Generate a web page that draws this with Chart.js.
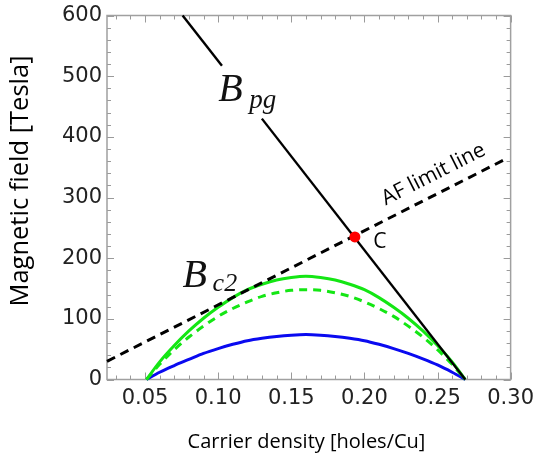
<!DOCTYPE html>
<html><head><meta charset="utf-8">
<script src="https://cdn.jsdelivr.net/npm/chart.js@4"></script>
<style>html,body{margin:0;padding:0;background:#fff}</style>
</head><body>
<canvas id="c" width="543" height="460"></canvas>
<script>
// ---- axis ticks ----
const xTickValues = [0.05, 0.10, 0.15, 0.20, 0.25, 0.30];
const xTickLabels = ['0.05', '0.10', '0.15', '0.20', '0.25', '0.30'];
const xMinorTicks = [0.03, 0.04, 0.06, 0.07, 0.08, 0.09, 0.11, 0.12, 0.13, 0.14, 0.16, 0.17, 0.18, 0.19, 0.21, 0.22, 0.23, 0.24, 0.26, 0.27, 0.28, 0.29];
const yTickValues = [0, 100, 200, 300, 400, 500, 600];
const yTickLabels = ['0', '100', '200', '300', '400', '500', '600'];
const yMinorTicks = [20, 40, 60, 80, 120, 140, 160, 180, 220, 240, 260, 280, 320, 340, 360, 380, 420, 440, 460, 480, 520, 540, 560, 580];

const xTitle = 'Carrier density [holes/Cu]';
const yTitle = 'Magnetic field [Tesla]';

// ---- series (carrier density -> magnetic field, Tesla) ----
const density   = [0.051, 0.06, 0.07, 0.08, 0.09, 0.10, 0.11, 0.12, 0.13, 0.14, 0.15, 0.16, 0.17, 0.18, 0.19, 0.20, 0.21, 0.22, 0.23, 0.24, 0.25, 0.26, 0.269];
const bc2Solid  = [0, 29, 56, 80, 101, 119, 135, 148, 157, 164, 168, 170, 168, 164, 157, 148, 135, 119, 101, 80, 56, 29, 0];
const bc2Dashed = [0, 25, 49, 70, 88, 104, 117, 128, 137, 143, 147, 148, 147, 143, 137, 128, 117, 104, 88, 70, 49, 25, 0];
const bc2Blue   = [0, 12, 23, 33, 43, 51, 58, 64, 68, 71, 73, 74, 73, 71, 68, 64, 58, 51, 43, 34, 24, 12, 0];

const bpgUpperX = [0.0757, 0.1026];
const bpgUpperY = [600, 517];
const bpgLowerX = [0.1299, 0.269];
const bpgLowerY = [430, 0];

const afLimitX = [0.024, 0.2963];
const afLimitY = [30, 363];

const pointCX = [0.1935];
const pointCY = [235];

const pts = (xs, ys) => xs.map((x, i) => ({x: x, y: ys[i]}));

const frameTicks = {
  id: 'frameTicks',
  beforeDatasetsDraw(chart) {
    const {ctx, chartArea: a, scales: {x, y}} = chart;
    ctx.save();
    ctx.strokeStyle = '#9a9a9a';
    ctx.lineWidth = 1;
    const tick = (x1, y1, x2, y2) => { ctx.beginPath(); ctx.moveTo(x1, y1); ctx.lineTo(x2, y2); ctx.stroke(); };
    xTickValues.forEach(v => { const p = Math.round(x.getPixelForValue(v)) + 0.5; tick(p, a.bottom, p, a.bottom - 7); tick(p, a.top, p, a.top + 7); });
    xMinorTicks.forEach(v => { const p = Math.round(x.getPixelForValue(v)) + 0.5; tick(p, a.bottom, p, a.bottom - 4); tick(p, a.top, p, a.top + 4); });
    yTickValues.forEach(v => { const p = Math.round(y.getPixelForValue(v)) + 0.5; tick(a.left, p, a.left + 7, p); tick(a.right, p, a.right - 7, p); });
    yMinorTicks.forEach(v => { const p = Math.round(y.getPixelForValue(v)) + 0.5; tick(a.left, p, a.left + 4, p); tick(a.right, p, a.right - 4, p); });
    ctx.lineWidth = 1.5;
    ctx.strokeStyle = '#a0a0a0';
    ctx.strokeRect(a.left, a.top, a.right - a.left, a.bottom - a.top);
    ctx.restore();
  },
  afterDatasetsDraw(chart) {
    const {ctx, scales: {x, y}} = chart;
    ctx.save();
    ctx.fillStyle = '#111';
    ctx.textBaseline = 'alphabetic';
    ctx.textAlign = 'left';
    // B_pg
    let bx = x.getPixelForValue(0.100), by = y.getPixelForValue(459);
    ctx.font = 'italic 40px "Liberation Serif"';
    ctx.fillText('B', bx, by);
    ctx.font = 'italic 27px "Liberation Serif"';
    ctx.fillText('pg', bx + 31, by + 7);
    // B_c2
    bx = x.getPixelForValue(0.0757); by = y.getPixelForValue(152);
    ctx.font = 'italic 40px "Liberation Serif"';
    ctx.fillText('B', bx, by);
    ctx.font = 'italic 26px "Liberation Serif"';
    ctx.fillText('c2', bx + 30, by + 4);
    // C label
    ctx.font = '21px "Open Sans"';
    ctx.fillStyle = '#000';
    ctx.fillText('C', x.getPixelForValue(0.2061), y.getPixelForValue(216));
    // AF limit line label, parallel to the dashed line
    const x0 = x.getPixelForValue(afLimitX[0]), y0 = y.getPixelForValue(afLimitY[0]);
    const x1 = x.getPixelForValue(afLimitX[1]), y1 = y.getPixelForValue(afLimitY[1]);
    const ang = Math.atan2(y1 - y0, x1 - x0);
    ctx.save();
    ctx.translate(x.getPixelForValue(0.2473), y.getPixelForValue(338));
    ctx.rotate(ang);
    ctx.textAlign = 'center';
    ctx.textBaseline = 'middle';
    ctx.font = '21px "Open Sans"';
    ctx.fillText('AF limit line', 0, 0);
    ctx.restore();
    // axis titles
    ctx.textAlign = 'center';
    ctx.textBaseline = 'middle';
    ctx.font = '20px "Open Sans"';
    ctx.fillText(xTitle, 306.5, 442);
    ctx.save();
    ctx.translate(21, 181);
    ctx.rotate(-Math.PI / 2);
    ctx.font = '25.5px "Open Sans"';
    ctx.fillText(yTitle, 0, 0);
    ctx.restore();
    ctx.restore();
  }
};

new Chart(document.getElementById('c'), {
  type: 'line',
  data: {
    datasets: [
      {order: 6, data: pts(density, bc2Blue), borderColor: '#0a0af0', borderWidth: 3, pointRadius: 0, cubicInterpolationMode: 'monotone', clip: 3},
      {order: 5, data: pts(density, bc2Dashed), borderColor: '#14e614', borderWidth: 3, borderDash: [8, 6], pointRadius: 0, cubicInterpolationMode: 'monotone', clip: 3},
      {order: 4, data: pts(density, bc2Solid), borderColor: '#14e614', borderWidth: 3, pointRadius: 0, cubicInterpolationMode: 'monotone', clip: 3},
      {order: 3, data: pts(afLimitX, afLimitY), borderColor: '#000', borderWidth: 3, borderDash: [9, 6], pointRadius: 0, clip: 3},
      {order: 2, data: pts(bpgUpperX, bpgUpperY), borderColor: '#000', borderWidth: 2.4, pointRadius: 0, clip: 3},
      {order: 2, data: pts(bpgLowerX, bpgLowerY), borderColor: '#000', borderWidth: 2.4, pointRadius: 0, clip: 3},
      {order: 0, data: pts(pointCX, pointCY), showLine: false, pointRadius: 5.5, pointBackgroundColor: '#ff0000', pointBorderWidth: 0, borderWidth: 0, borderColor: '#ff0000', clip: 8}
    ]
  },
  options: {
    responsive: false,
    animation: false,
    devicePixelRatio: 1,
    layout: {padding: {left: 0, right: 27, top: 11, bottom: 0}},
    plugins: {legend: {display: false}, tooltip: {enabled: false}},
    scales: {
      x: {
        type: 'linear', min: 0.024, max: 0.30,
        afterBuildTicks: s => { s.ticks = xTickValues.map(v => ({value: v})); },
        afterFit: s => { s.height = 80.5; },
        grid: {display: false, drawTicks: false},
        border: {display: false},
        ticks: {callback: (v, i) => xTickLabels[i], font: {family: 'DejaVu Sans', size: 21, lineHeight: 1}, color: '#222', padding: 9, maxRotation: 0, autoSkip: false},
        title: {display: false, text: xTitle}
      },
      y: {
        type: 'linear', min: 0, max: 600,
        afterBuildTicks: s => { s.ticks = yTickValues.map(v => ({value: v})); },
        afterFit: s => { s.width = 107; },
        grid: {display: false, drawTicks: false},
        border: {display: false},
        ticks: {callback: (v, i) => yTickLabels[i], font: {family: 'DejaVu Sans', size: 21, lineHeight: 1}, color: '#222', padding: 5, autoSkip: false},
        title: {display: false, text: yTitle}
      }
    }
  },
  plugins: [frameTicks]
});
</script>
</body></html>
